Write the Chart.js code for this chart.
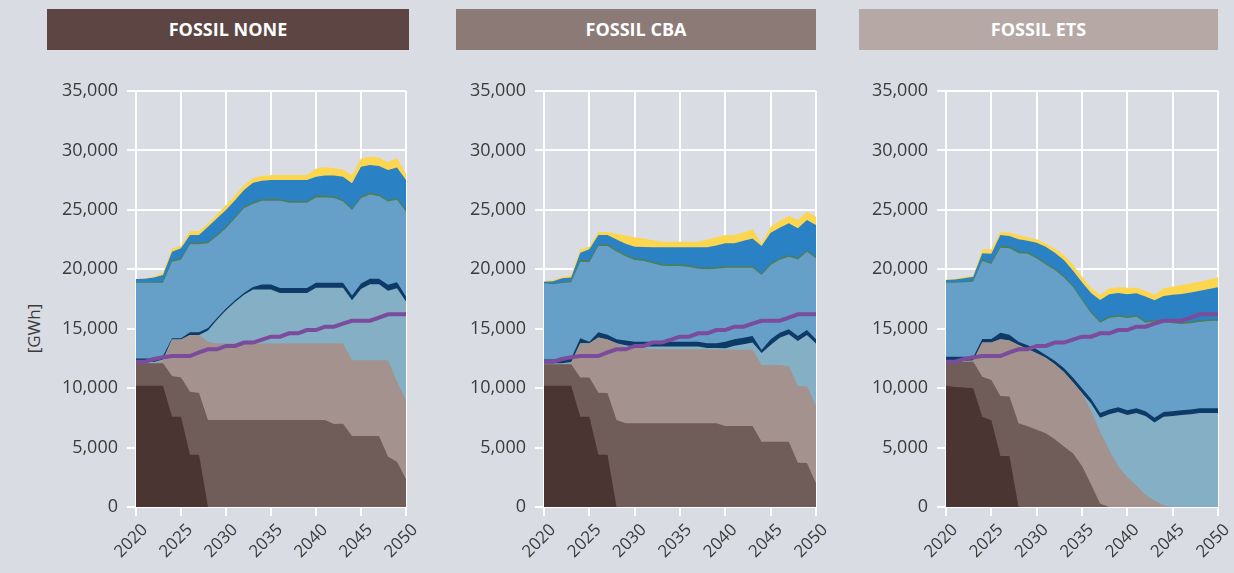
<!DOCTYPE html>
<html>
<head>
<meta charset="utf-8">
<script src="https://cdn.jsdelivr.net/npm/chart.js@4.4.1/dist/chart.umd.min.js"></script>
<style>
  body { margin:0; background:#d9dce3; width:1234px; height:573px; overflow:hidden; position:relative; font-family:'Open Sans', sans-serif; }
  .titulo { position:absolute; top:9px; height:41px; line-height:41px; color:#fff; font-weight:700; font-size:18px; text-align:center; }
  canvas { position:absolute; top:60px; }
  #unidade { position:absolute; left:8px; top:317px; width:50px; text-align:center; font-size:17px; color:#3b3b3b; transform:rotate(-90deg); }
</style>
</head>
<body>
<div class="titulo" style="left:47px;width:362px;background:#5c4543">FOSSIL NONE</div>
<div class="titulo" style="left:456px;width:360px;background:#8c7a77">FOSSIL CBA</div>
<div class="titulo" style="left:859px;width:359px;background:#b5a8a5">FOSSIL ETS</div>
<div id="unidade">[GWh]</div>
<canvas id="c1" width="420" height="513" style="left:0px"></canvas>
<canvas id="c2" width="420" height="513" style="left:408px"></canvas>
<canvas id="c3" width="420" height="513" style="left:810px"></canvas>
<script>
const anos = [2020,2021,2022,2023,2024,2025,2026,2027,2028,2029,2030,2031,2032,2033,2034,2035,2036,2037,2038,2039,2040,2041,2042,2043,2044,2045,2046,2047,2048,2049,2050]
const yTicks = [0,5000,10000,15000,20000,25000,30000,35000]

// demand line (same in all three)
const demanda = [12230,12230,12450,12600,12700,12700,12700,13000,13270,13270,13550,13550,13830,13830,14080,14330,14330,14610,14610,14890,14890,15170,15170,15420,15670,15670,15670,15940,16210,16210,16210]

// FOSSIL NONE
const noneCoal = [10200,10200,10200,10200,7600,7600,4400,4400,0,0,0,0,0,0,0,0,0,0,0,0,0,0,0,0,0,0,0,0,0,0,0]
const noneGas = [1900,1900,1900,1900,3420,3300,5300,5200,7320,7320,7320,7320,7320,7320,7320,7320,7320,7320,7320,7320,7320,7320,6980,7000,5970,5970,5970,5970,4230,3810,2360]
const noneOil = [0,0,0,200,3080,3200,4770,4870,6580,6430,6430,6430,6430,6430,6430,6430,6430,6430,6430,6430,6430,6430,6770,6750,6370,6370,6370,6370,8110,6730,6640]
const noneBio = [100,100,100,100,0,0,0,0,950,2000,2800,3500,4100,4550,4550,4550,4250,4250,4250,4250,4700,4700,4700,4700,5060,6010,6410,6410,5860,7860,8300]
const noneWaste = [300,300,300,300,100,100,230,230,200,150,150,150,150,200,420,420,420,420,420,420,420,420,420,420,400,450,450,450,500,500,400]
const noneWind = [6370,6370,6370,6170,6440,6600,7400,7400,7130,6900,6750,6900,7130,7000,7050,7050,7350,7180,7180,7180,7180,7180,7130,6830,7190,7170,7100,6950,7000,6950,7150]
const noneHydro = [50,50,50,150,150,150,150,150,150,150,150,150,150,150,150,150,150,150,150,150,150,150,150,150,150,150,150,150,150,150,150]
const noneOffshore = [260,280,380,500,690,810,630,630,1250,1350,1390,1350,1390,1640,1530,1590,1590,1760,1760,1760,1590,1700,1750,1940,2090,2510,2320,2400,2500,2560,2510]
const noneSolar = [0,50,100,200,280,200,340,340,280,350,420,420,420,360,420,420,420,420,420,420,700,700,600,600,700,700,700,700,650,800,500]

// FOSSIL CBA
const cbaCoal = [10200,10200,10200,10200,7600,7600,4400,4400,0,0,0,0,0,0,0,0,0,0,0,0,0,0,0,0,0,0,0,0,0,0,0]
const cbaGas = [1800,1800,1800,1800,3300,3300,5220,5200,7320,7040,7040,7040,7040,7040,7040,7040,7040,7040,7040,7040,6820,6820,6820,6820,5500,5500,5500,5500,3730,3700,1990]
const cbaOil = [0,0,0,100,2870,2870,4650,4500,6450,6450,6360,6310,6260,6230,6230,6230,6230,6230,6230,6230,6420,6420,6420,6420,6450,6450,6450,6350,6450,6450,6510]
const cbaBio = [100,100,100,100,0,0,0,0,0,110,110,160,210,240,240,240,240,240,100,100,120,320,460,600,1010,1680,2300,2680,3790,4320,5260]
const cbaWaste = [300,300,300,300,420,140,430,400,340,400,400,400,400,400,400,400,400,400,400,400,550,550,550,550,250,480,420,420,420,420,350]
const cbaWind = [6420,6350,6450,6400,6450,6690,7260,7460,7390,7100,6870,6790,6590,6390,6370,6370,6290,6140,6230,6280,6220,6020,5880,5740,6310,6250,6130,6110,6430,6590,6810]
const cbaHydro = [50,50,50,150,150,150,150,150,150,150,150,150,150,150,150,150,150,150,150,150,150,150,150,150,150,150,150,150,150,150,150]
const cbaOffshore = [90,200,340,250,610,930,770,770,850,900,970,1030,1210,1400,1420,1420,1500,1650,1700,1800,1900,1900,2120,2320,2290,2570,2550,2660,2480,2520,2660]
const cbaSolar = [40,100,110,200,280,220,280,250,500,700,790,720,590,470,470,470,470,470,650,700,700,700,700,760,220,500,600,610,700,700,690]

// FOSSIL ETS
const etsCoal = [10200,10100,10050,10000,7600,7300,4300,4300,0,0,0,0,0,0,0,0,0,0,0,0,0,0,0,0,0,0,0,0,0,0,0]
const etsGas = [2030,2130,2180,2230,3360,3380,5040,5000,7040,6800,6500,6200,5700,5100,4520,3450,1900,300,0,0,0,0,0,0,0,0,0,0,0,0,0]
const etsOil = [0,0,0,100,2890,3150,4770,4700,6590,6500,6430,6350,6300,6250,5980,6150,6200,6000,4800,3400,2500,1800,1000,550,150,0,0,0,0,0,0]
const etsBio = [70,70,70,0,0,0,0,0,0,0,0,0,0,0,0,0,600,1200,3000,4600,5250,6100,6650,6550,7450,7650,7750,7800,7900,7900,7900]
const etsWaste = [350,350,350,270,290,300,560,500,280,300,340,240,300,350,400,400,400,400,400,400,400,400,400,400,400,400,400,400,400,400,400]
const etsWind = [6220,6220,6250,6350,6560,6310,7150,7280,7440,7700,7630,7610,7640,7600,7600,7400,7200,7600,7700,7600,7750,7700,7450,8100,7600,7400,7250,7250,7260,7350,7370]
const etsHydro = [50,50,50,150,150,150,150,150,150,150,150,150,150,150,150,150,150,150,150,150,150,150,150,150,150,150,150,150,150,150,150]
const etsOffshore = [180,230,300,280,490,710,910,870,1020,950,1190,1350,1310,1330,1250,1350,1550,1760,1850,1850,1850,1830,2050,1650,2000,2250,2370,2450,2490,2550,2660]
const etsSolar = [50,50,100,70,340,380,280,300,360,300,280,270,350,420,500,500,450,430,500,480,550,470,500,440,650,700,760,770,760,800,840]

const nomes = ['Coal','Gas','Oil','Biomass','Waste','Onshore wind','Hydro','Offshore wind','Solar']
const cores = ['#4a3533','#705c59','#a3928e','#85afc4','#0d3a66','#66a0c8','#4e7d5b','#2a82c5','#fdd64f']

function desenhaPainel(id, series, padDireita){
  const datasets = [{
    label: 'Demand',
    data: demanda,
    stack: 'demanda',
    borderColor: '#7b4b9c',
    borderWidth: 4,
    fill: false,
    pointRadius: 0,
    tension: 0
  }]
  series.forEach(function(s, i){
    datasets.push({
      label: nomes[i],
      data: s,
      stack: 'producao',
      backgroundColor: cores[i],
      borderColor: 'transparent',
      borderWidth: 0,
      fill: 'origin',
      pointRadius: 0,
      tension: 0
    })
  })

  const branco = function(c){ return (anos[c.index] % 5 === 0) ? '#ffffff' : 'rgba(0,0,0,0)' }

  new Chart(document.getElementById(id), {
    type: 'line',
    data: { labels: anos, datasets: datasets },
    options: {
      responsive: false,
      animation: false,
      layout: { padding: { top: 31, right: padDireita, left: 0, bottom: 0 } },
      plugins: { legend: { display: false }, tooltip: { enabled: false } },
      scales: {
        x: {
          afterFit: function(s){ s.height = 66; s.paddingLeft = 0; s.paddingRight = 0 },
          grid: { color: branco, lineWidth: 2, tickLength: 9, drawOnChartArea: true },
          border: { color: '#ffffff', width: 2 },
          ticks: {
            autoSkip: false,
            minRotation: 45,
            maxRotation: 45,
            labelOffset: 9,
            padding: 4,
            color: '#3b3b3b',
            font: { family: "'Open Sans', sans-serif", size: 17 },
            callback: function(v, i){ return anos[i] % 5 === 0 ? String(anos[i]) : '' }
          }
        },
        y: {
          stacked: true,
          min: 0,
          max: 35000,
          afterFit: function(s){ s.width = 136 },
          afterBuildTicks: function(s){ s.ticks = yTicks.map(function(v){ return { value: v } }) },
          grid: { color: '#ffffff', lineWidth: 2, tickLength: 9 },
          border: { color: '#ffffff', width: 2 },
          ticks: {
            padding: 9,
            color: '#3b3b3b',
            font: { family: "'Open Sans', sans-serif", size: 18 },
            callback: function(v){ return v.toLocaleString('en-US') }
          }
        }
      }
    }
  })
}

desenhaPainel('c1', [noneCoal, noneGas, noneOil, noneBio, noneWaste, noneWind, noneHydro, noneOffshore, noneSolar], 14)
desenhaPainel('c2', [cbaCoal, cbaGas, cbaOil, cbaBio, cbaWaste, cbaWind, cbaHydro, cbaOffshore, cbaSolar], 12)
desenhaPainel('c3', [etsCoal, etsGas, etsOil, etsBio, etsWaste, etsWind, etsHydro, etsOffshore, etsSolar], 12)
</script>
</body>
</html>
